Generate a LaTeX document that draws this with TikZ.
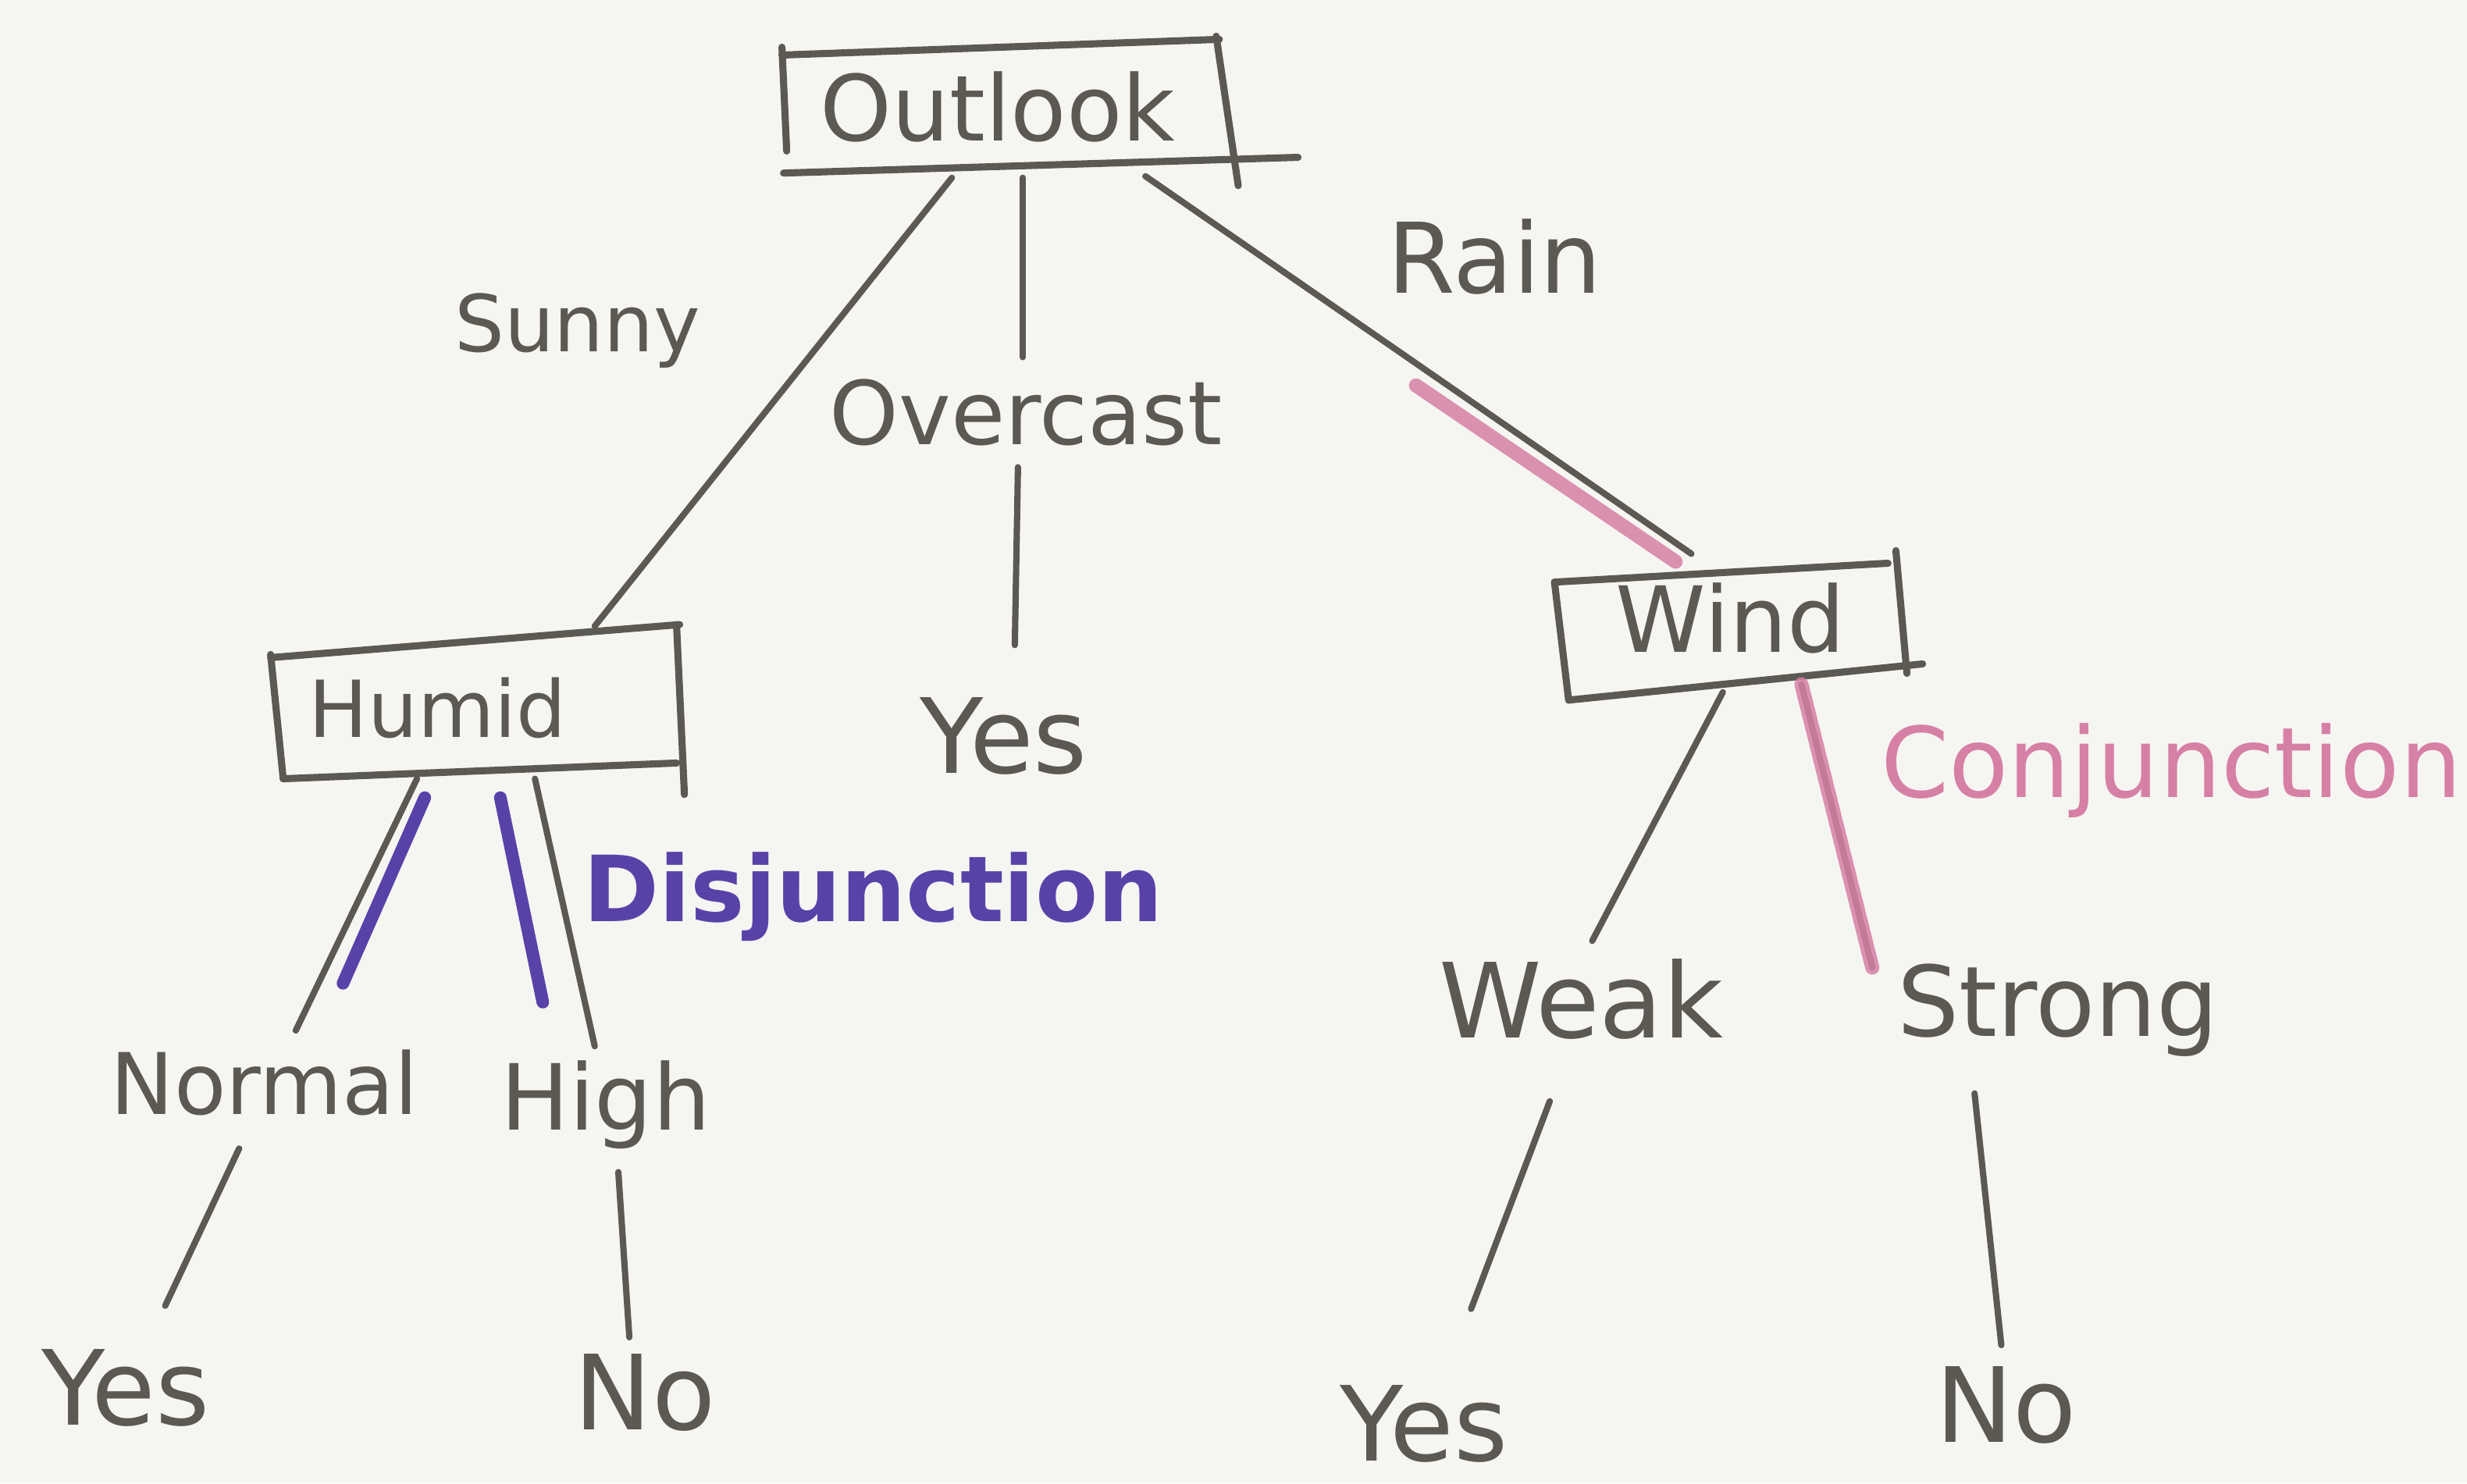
\documentclass[tikz,border=0pt]{standalone}
\usepackage{fontspec}
\setmainfont{DejaVu Sans}
\usetikzlibrary{calc}
\definecolor{paper}{RGB}{245,245,241}
\definecolor{ink}{RGB}{92,88,82}
\definecolor{violetink}{RGB}{88,66,168}
\definecolor{pinkink}{RGB}{214,128,165}
\begin{document}
\begin{tikzpicture}[x=1pt,y=-1pt,
  txt/.style={text=ink, inner sep=0pt, font=\fontsize{#1}{#1}\selectfont},
  txt/.default=58,
  inkline/.style={draw=ink, line width=4pt, line cap=round},
  boxline/.style={draw=ink, line width=4.5pt, line cap=round},
  violetline/.style={draw=violetink, line width=8pt, line cap=round},
  pinkline/.style={draw=pinkink, line width=9pt, line cap=round, opacity=0.85}]
\fill[paper] (0,0) rectangle (1568,943);
\useasboundingbox (0,0) rectangle (1568,943);

% decision nodes
\node[txt=58] (outlook) at (634,68) {Outlook};
\node[txt=50] (humid) at (278,450) {Humid};
\node[txt=58] (wind) at (1100,393) {Wind};

% hand-drawn boxes
\draw[boxline] ($(outlook)+(-137,-33)$) -- ($(outlook)+(141,-43)$);
\draw[boxline] ($(outlook)+(-137,-38)$) -- ($(outlook)+(-134,28)$);
\draw[boxline] ($(outlook)+(139,-45)$) -- ($(outlook)+(153,50)$);
\draw[boxline] ($(outlook)+(-136,42)$) -- ($(outlook)+(191,32)$);

\draw[boxline] ($(humid)+(-106,-32)$) -- ($(humid)+(154,-53)$);
\draw[boxline] ($(humid)+(-106,-34)$) -- ($(humid)+(-98,45)$);
\draw[boxline] ($(humid)+(-98,45)$) -- ($(humid)+(152,35)$);
\draw[boxline] ($(humid)+(152,-53)$) -- ($(humid)+(157,55)$);

\draw[boxline] ($(wind)+(-112,-23)$) -- ($(wind)+(100,-35)$);
\draw[boxline] ($(wind)+(-112,-23)$) -- ($(wind)+(-103,52)$);
\draw[boxline] ($(wind)+(105,-43)$) -- ($(wind)+(112,35)$);
\draw[boxline] ($(wind)+(-103,52)$) -- ($(wind)+(122,29)$);

% leaves and branch labels
\node[txt=50] (sunny) at (367,210) {Sunny};
\node[txt=56] (overcast) at (652,262) {Overcast};
\node[txt=62] (rain) at (950,163) {Rain};
\node[txt=66] (yes1) at (638,468) {Yes};
\node[txt=54] (normal) at (168,688) {Normal};
\node[txt=58] (high) at (385,702) {High};
\node[txt=66] (yes2) at (80,882) {Yes};
\node[txt=66] (no1) at (410,885) {No};
\node[txt=66] (weak) at (1005,635) {Weak};
\node[txt=62] (strong) at (1308,642) {Strong};
\node[txt=66] (yes3) at (905,905) {Yes};
\node[txt=66] (no2) at (1275,893) {No};
\node[text=violetink, inner sep=0pt, font=\fontsize{58}{58}\selectfont\bfseries] (disj) at (555,570) {Disjunction};
\node[txt=62, text=pinkink] (conj) at (1380,490) {Conjunction};

% connectors from Outlook
\draw[inkline] ($(outlook)+(-29,45)$) -- ($(humid)+(100,-52)$);
\draw[inkline] ($(outlook)+(16,45)$) -- ($(overcast)+(-2,-35)$);
\draw[inkline] ($(overcast)+(-5,35)$) -- ($(yes1)+(7,-58)$);
\draw[inkline] ($(outlook)+(94,44)$) -- ($(wind)+(-25,-41)$);
\draw[pinkline] ($(wind)+(-200,-148)$) -- ($(wind)+(-35,-36)$);

% connectors from Humid
\draw[inkline] ($(humid)+(-13,45)$) -- ($(normal)+(20,-33)$);
\draw[violetline] ($(humid)+(-8,57)$) -- ($(normal)+(50,-63)$);
\draw[inkline] ($(humid)+(62,45)$) -- ($(high)+(-7,-37)$);
\draw[violetline] ($(humid)+(40,57)$) -- ($(high)+(-40,-65)$);
\draw[inkline] ($(normal)+(-16,42)$) -- ($(yes2)+(25,-52)$);
\draw[inkline] ($(high)+(8,43)$) -- ($(no1)+(-10,-35)$);

% connectors from Wind
\draw[inkline] ($(wind)+(-5,47)$) -- ($(weak)+(7,-37)$);
\draw[inkline] ($(wind)+(45,42)$) -- ($(strong)+(-118,-27)$);
\draw[pinkline] ($(wind)+(45,42)$) -- ($(strong)+(-118,-27)$);
\draw[inkline] ($(weak)+(-20,65)$) -- ($(yes3)+(30,-73)$);
\draw[inkline] ($(strong)+(-53,53)$) -- ($(no2)+(-3,-38)$);
\end{tikzpicture}
\end{document}
